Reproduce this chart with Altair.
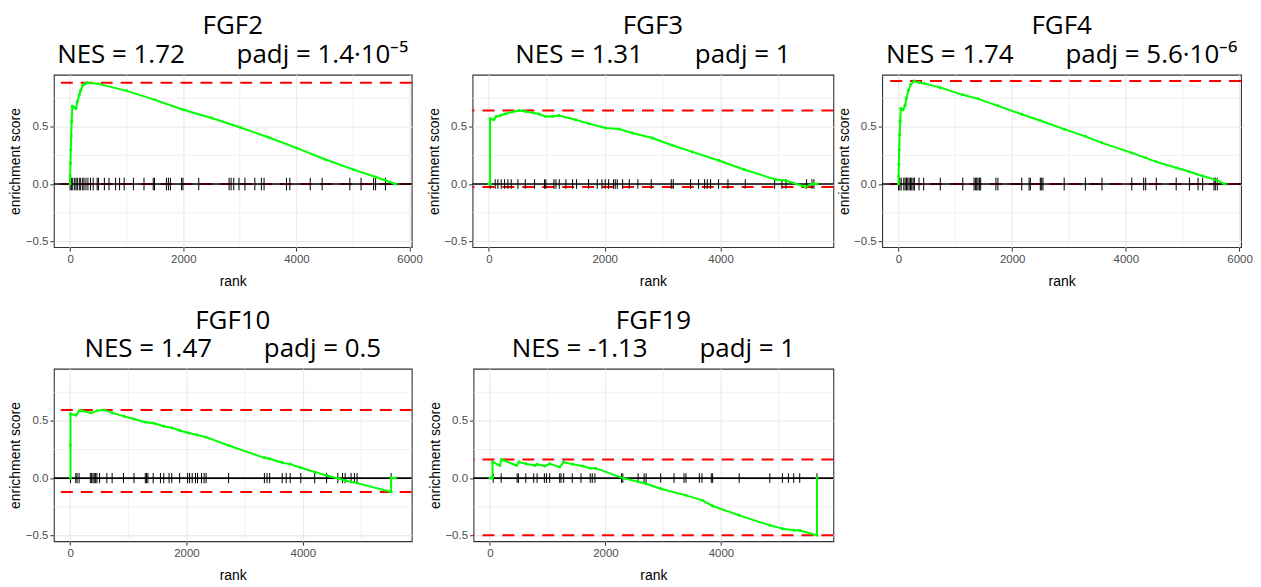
import altair as alt
import pandas as pd

# ---------------- data ----------------
genes = ["FGF2", "FGF3", "FGF4", "FGF10", "FGF19"]
nes_text = ["1.72", "1.31", "1.74", "1.47", "-1.13"]
padj_text = ["1.4\u00b710\u207b\u2075", "1", "5.6\u00b710\u207b\u2076", "0.5", "1"]

x_domains = [[-287, 6037], [-283, 5948], [-287, 6027], [-280, 5873], [-283, 5946]]
x_major = [[0, 2000, 4000, 6000], [0, 2000, 4000], [0, 2000, 4000, 6000], [0, 2000, 4000], [0, 2000, 4000]]
x_minor = [1000, 3000, 5000]
y_domain = [-0.552, 0.956]
y_major = [-0.5, 0.0, 0.5]
y_minor = [-0.25, 0.25, 0.75]
tick_half = [0.055, 0.042, 0.056, 0.045, 0.042]

hits_fgf2 = [0, 23, 47, 82, 105, 128, 163, 187, 222, 245, 280, 315, 361, 408, 478, 501, 606, 688,
             805, 875, 956, 1119, 1306, 1469, 1492, 1702, 1737, 1772, 1971, 1994, 2274, 2810, 2845,
             2892, 2985, 3090, 3265, 3381, 3428, 3824, 3883, 4244, 4454, 4944, 5142, 5364, 5399, 5573]
hits_fgf3 = [23, 109, 155, 213, 271, 328, 386, 501, 628, 789, 961, 984, 1123, 1157, 1215, 1330, 1445,
             1514, 1721, 1871, 1952, 2009, 2067, 2153, 2182, 2216, 2309, 2424, 2573, 2803, 3149, 3183,
             3483, 3621, 3724, 3770, 3828, 3966, 4128, 4427, 4934, 5060, 5129, 5486, 5578, 5613]
hits_fgf4 = [0, 23, 47, 93, 117, 140, 163, 187, 210, 233, 257, 280, 361, 443, 735, 1131, 1329, 1353,
             1376, 1399, 1423, 1446, 1714, 1749, 2169, 2297, 2320, 2495, 2519, 2542, 2915, 3288, 3580,
             4105, 4314, 4349, 4536, 4886, 5119, 5271, 5352, 5551, 5574, 5609]
hits_fgf10 = [6, 97, 119, 154, 347, 370, 393, 415, 438, 461, 506, 631, 722, 916, 1098, 1292, 1314, 1337,
              1428, 1553, 1610, 1701, 1747, 1883, 2020, 2054, 2099, 2156, 2190, 2259, 2304, 2338, 2725,
              3340, 3385, 3431, 3647, 3715, 3784, 3966, 4205, 4410, 4603, 4683, 4729, 4831, 4888, 4934, 5519]
hits_fgf19 = [58, 196, 472, 495, 622, 760, 818, 944, 979, 1036, 1209, 1232, 1278, 1427, 1577, 1738, 1773,
              1819, 2279, 2302, 2567, 2670, 2705, 2958, 3188, 3361, 3395, 3626, 3672, 3833, 3856, 4316,
              4846, 5064, 5168, 5260, 5364, 5663]

rank_fgf2 = [0, 0, 6, 12, 20, 28, 40, 82, 105, 128, 163, 187, 222, 260, 300, 500, 1000, 1500, 2000,
             2500, 3000, 3500, 4000, 4500, 5000, 5400, 5750]
es_fgf2 = [0, 0.07, 0.18, 0.30, 0.42, 0.55, 0.68, 0.67, 0.66, 0.72, 0.78, 0.82, 0.86, 0.875, 0.885,
           0.876, 0.815, 0.736, 0.65, 0.577, 0.496, 0.409, 0.316, 0.217, 0.128, 0.061, 0]

rank_fgf3 = [0, 20, 20, 86, 127, 201, 288, 403, 518, 633, 864, 979, 1094, 1209, 1497, 1727, 2015,
             2245, 2476, 2821, 3166, 3512, 3972, 4404, 4951, 5124, 5469, 5584, 5665]
es_fgf3 = [0, 0, 0.571, 0.562, 0.591, 0.600, 0.614, 0.629, 0.643, 0.635, 0.612, 0.591, 0.591, 0.600,
           0.562, 0.528, 0.490, 0.481, 0.446, 0.403, 0.339, 0.281, 0.206, 0.127, 0.040, 0.031, -0.026,
           0.003, 0]

rank_fgf4 = [0, 0, 6, 12, 20, 29, 41, 82, 117, 140, 175, 216, 274, 362, 450, 735, 1131, 1400, 1750,
             2169, 2500, 2915, 3288, 3580, 4105, 4349, 4536, 4886, 5119, 5352, 5609, 5740]
es_fgf4 = [0, 0.07, 0.17, 0.30, 0.43, 0.55, 0.66, 0.65, 0.69, 0.75, 0.82, 0.87, 0.90, 0.887, 0.88,
           0.843, 0.78, 0.745, 0.684, 0.61, 0.554, 0.48, 0.417, 0.36, 0.272, 0.229, 0.194, 0.142,
           0.107, 0.07, 0.032, 0]

rank_fgf10 = [6, 6, 6, 12, 102, 160, 200, 360, 470, 586, 728, 927, 1098, 1297, 1440, 1610, 1752, 1883,
              2037, 2179, 2339, 2725, 3340, 3431, 3647, 3784, 3966, 4216, 4410, 4626, 4740, 4939,
              5519, 5519, 5593]
es_fgf10 = [0, 0.285, 0.56, 0.56, 0.55, 0.59, 0.588, 0.57, 0.59, 0.596, 0.57, 0.54, 0.517, 0.488,
            0.48, 0.453, 0.439, 0.416, 0.395, 0.378, 0.358, 0.285, 0.177, 0.169, 0.134, 0.122, 0.09,
            0.052, 0.023, -0.006, -0.023, -0.044, -0.122, 0, 0]

rank_fgf19 = [0, 46, 46, 173, 201, 460, 506, 622, 777, 818, 950, 1036, 1209, 1278, 1439, 1600, 1738,
              1830, 2302, 2705, 2958, 3395, 3683, 3856, 4316, 4846, 5064, 5260, 5364, 5663, 5663]
es_fgf19 = [0, 0, 0.14, 0.11, 0.163, 0.11, 0.14, 0.125, 0.11, 0.12, 0.105, 0.125, 0.096, 0.14, 0.12,
            0.105, 0.087, 0.087, 0.0, -0.05, -0.093, -0.151, -0.195, -0.244, -0.326, -0.413, -0.442,
            -0.456, -0.459, -0.5, 0]

hits = [hits_fgf2, hits_fgf3, hits_fgf4, hits_fgf10, hits_fgf19]
ranks = [rank_fgf2, rank_fgf3, rank_fgf4, rank_fgf10, rank_fgf19]
scores = [es_fgf2, es_fgf3, es_fgf4, es_fgf10, es_fgf19]

widths = [359, 362, 360, 359, 361]
HEIGHT = 173

LABEL_FONT = "Liberation Sans"
TITLE_FONT = "Open Sans"
GRID = "#ebebeb"
FRAME = "#333333"


def panel(i):
    xs = alt.Scale(domain=x_domains[i], nice=False, zero=False)
    ys = alt.Scale(domain=y_domain, nice=False, zero=False)

    x_axis = alt.Axis(
        values=x_major[i], format="d", title="rank", grid=True, gridColor=GRID, gridWidth=1.3,
        domain=False, ticks=True, tickColor=FRAME, tickSize=4, tickWidth=1,
        labelColor="#4d4d4d", labelFont=LABEL_FONT, labelFontSize=11.5, labelPadding=2,
        labelFlush=False, titleFont=LABEL_FONT, titleFontSize=14, titleFontWeight="normal",
        titleColor="black", titlePadding=10,
    )
    y_axis = alt.Axis(
        values=y_major, title="enrichment score", grid=True, gridColor=GRID, gridWidth=1.3,
        labelExpr="datum.value < 0 ? '\u2212' + format(-datum.value, '.1f') : format(datum.value, '.1f')",
        domain=False, ticks=True, tickColor=FRAME, tickSize=4, tickWidth=1,
        labelColor="#4d4d4d", labelFont=LABEL_FONT, labelFontSize=11.5, labelPadding=2,
        titleFont=LABEL_FONT, titleFontSize=14, titleFontWeight="normal", titleColor="black",
        titleX=-31, titleY=HEIGHT / 2,
    )

    def X(f):
        return alt.X(f, scale=xs, axis=x_axis)

    def Y(f):
        return alt.Y(f, scale=ys, axis=y_axis)

    xminor = alt.Chart(pd.DataFrame({"v": x_minor})).mark_rule(
        color=GRID, strokeWidth=0.7).encode(x=X("v:Q"))
    yminor = alt.Chart(pd.DataFrame({"v": y_minor})).mark_rule(
        color=GRID, strokeWidth=0.7).encode(y=Y("v:Q"))

    es = scores[i]
    ext = alt.Chart(pd.DataFrame({"v": [max(es), min(es)]})).mark_rule(
        color="#ff0000", strokeWidth=2, strokeDash=[12, 8]).encode(y=Y("v:Q"))
    zero = alt.Chart(pd.DataFrame({"v": [0.0]})).mark_rule(
        color="black", strokeWidth=1.6).encode(y=Y("v:Q"))

    hd = pd.DataFrame({"rank": hits[i]})
    hd["lo"] = -tick_half[i]
    hd["hi"] = tick_half[i]
    ticks = alt.Chart(hd).mark_rule(color="black", strokeWidth=1).encode(
        x=X("rank:Q"), y=Y("lo:Q"), y2="hi:Q")

    cd = pd.DataFrame({"rank": ranks[i], "es": es, "i": list(range(len(es)))})
    line = alt.Chart(cd).mark_line(color="#00ff00", strokeWidth=2).encode(
        x=X("rank:Q"), y=Y("es:Q"), order="i:Q")
    pts = alt.Chart(cd).mark_circle(color="#00ff00", size=9, opacity=1).encode(
        x=X("rank:Q"), y=Y("es:Q"))

    return alt.layer(xminor, yminor, ext, zero, ticks, line, pts).properties(
        width=widths[i], height=HEIGHT,
        view=alt.ViewBackground(stroke=FRAME, strokeWidth=1.1),
        title=alt.TitleParams(
            text=genes[i],
            subtitle=f"NES = {nes_text[i]}\u2003\u2003padj = {padj_text[i]}",
            font=TITLE_FONT, subtitleFont=TITLE_FONT, fontSize=26, subtitleFontSize=26,
            fontWeight="normal", subtitleFontWeight="normal", color="black",
            subtitleColor="black", anchor="middle", offset=6, subtitlePadding=3,
        ),
    )


p = [panel(i) for i in range(5)]
row1 = alt.hconcat(p[0], alt.hconcat(p[1], p[2], spacing=49, bounds="flush"), spacing=61, bounds="flush")
row2 = alt.hconcat(p[3], p[4], spacing=62, bounds="flush")
chart = alt.vconcat(row1, row2, spacing=17).properties(
    padding={"left": 0, "top": 4, "right": 0, "bottom": 0}
).configure_view(stroke=FRAME, strokeWidth=1.1)

chart.save("out.html", embed_options={"renderer": "svg", "actions": False})
